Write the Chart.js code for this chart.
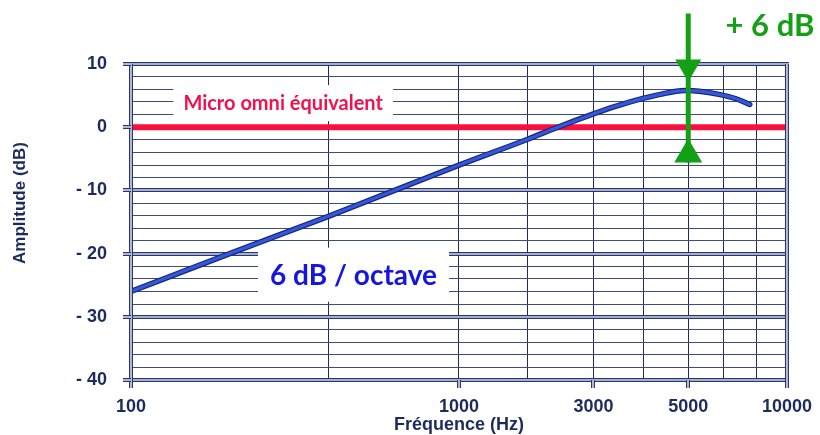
<!DOCTYPE html>
<html><head><meta charset="utf-8">
<script src="https://cdn.jsdelivr.net/npm/chart.js@4.4.1/dist/chart.umd.min.js"></script>
<style>html,body{margin:0;padding:0;background:#fff;}#wrap{width:820px;height:435px;position:relative;}</style>
</head><body><div id="wrap"><canvas id="c" width="820" height="435"></canvas></div>
<script>
// ---- data ----
const freqHz     = [100, 200, 400, 1000, 1620, 2000, 2570, 3000, 3660, 4200, 4600, 4900, 5400, 6200, 7000, 7700];
const responseDb = [-26, -20, -14.1, -6, -1.9, 0, 2.1, 3.3, 4.6, 5.3, 5.7, 5.8, 5.7, 5.2, 4.5, 3.6];
const omniFreq   = [100, 10000];
const omniDb     = [0, 0];
const xGridValues = [100, 400, 1000, 1620, 2570, 3660, 5000, 6400, 8100, 10000];
const xTickLabels = ['100', '', '1000', '', '3000', '', '5000', '', '', '10000'];
const yMajorValues = [10, 0, -10, -20, -30, -40];
const yTickLabels  = ['10', '0', '- 10', '- 20', '- 30', '- 40'];
const arrowFreq = 5000;
const arrowDb   = [18, 10.7, 7.2, -1.8, -5.6]; // top, down-head base, down tip, up tip, up-head base
const microLabel  = 'Micro omni équivalent';
const slopeLabel  = '6 dB / octave';
const gainLabel   = '+ 6 dB';
const yTitle = 'Amplitude (dB)';
const xTitle = 'Fréquence (Hz)';

// ---- annotation placement (data units) ----
const microPos = {f: 291, db: 3.8};
const slopePos = {f: 477, db: -23.5};
const gainPos  = {f: 6500, db: 16};
const yTitlePos = {db: -12};

const NAVY = '#1c2b5c';
const GRID_H = '#3e4c7c';
const GRID_V = '#1f2a5a';
const tickFont = {family: 'Liberation Sans', weight: 'bold', size: 18};

function dbl(ctx, x1, y1, x2, y2) {
  ctx.beginPath(); ctx.moveTo(x1, y1); ctx.lineTo(x2, y2);
  ctx.lineWidth = 4; ctx.strokeStyle = '#2a376c'; ctx.stroke();
  ctx.beginPath(); ctx.moveTo(x1, y1); ctx.lineTo(x2, y2);
  ctx.lineWidth = 1.6; ctx.strokeStyle = '#d3d9ef'; ctx.stroke();
}

const decor = {
  id: 'decor',
  beforeDatasetsDraw(chart) {
    const {ctx, chartArea: a, scales: {x, y}} = chart;
    ctx.save();
    ctx.lineCap = 'butt';
    yMajorValues.forEach(v => {
      const py = Math.round(y.getPixelForValue(v));
      dbl(ctx, a.left - 8, py, a.right, py);
    });
    // label boxes
    ctx.textAlign = 'center'; ctx.textBaseline = 'middle';
    ctx.font = 'bold 20px Lato';
    let mx = x.getPixelForValue(microPos.f), my = y.getPixelForValue(microPos.db);
    let w = ctx.measureText(microLabel).width;
    ctx.fillStyle = '#fff';
    ctx.fillRect(mx - w / 2 - 10, my - 18, w + 20, 36);
    ctx.fillStyle = '#f2114b';
    ctx.fillText(microLabel, mx, my);
    ctx.font = 'bold 28px Lato';
    let sx = x.getPixelForValue(slopePos.f), sy = y.getPixelForValue(slopePos.db);
    w = ctx.measureText(slopeLabel).width;
    ctx.fillStyle = '#fff';
    ctx.fillRect(sx - w / 2 - 12, sy - 28, w + 24, 54);
    ctx.fillStyle = '#1616e2';
    ctx.fillText(slopeLabel, sx, sy);
    // y title
    ctx.save();
    ctx.translate(20, y.getPixelForValue(yTitlePos.db));
    ctx.rotate(-Math.PI / 2);
    ctx.font = 'bold 17px "Liberation Sans"';
    ctx.fillStyle = NAVY;
    ctx.fillText(yTitle, 0, 0);
    ctx.restore();
    ctx.restore();
  },
  afterDatasetsDraw(chart) {
    const {ctx, chartArea: a, scales: {x, y}} = chart;
    ctx.save();
    // frame
    dbl(ctx, a.left - 2, a.top, a.right + 2, a.top);
    dbl(ctx, a.left - 2, a.bottom, a.right + 2, a.bottom);
    dbl(ctx, a.left, a.top, a.left, a.bottom + 8);
    dbl(ctx, a.right, a.top, a.right, a.bottom + 8);
    xGridValues.forEach((v, i) => {
      if (xTickLabels[i]) {
        const px = Math.round(x.getPixelForValue(v));
        dbl(ctx, px, a.bottom, px, a.bottom + 8);
      }
    });
    yMajorValues.forEach(v => {
      const py = Math.round(y.getPixelForValue(v));
      dbl(ctx, a.left - 8, py, a.left, py);
    });
    // green arrow
    const ax = x.getPixelForValue(arrowFreq);
    const [t, db, dt, ut, ub] = arrowDb.map(v => y.getPixelForValue(v));
    ctx.strokeStyle = '#14a014'; ctx.fillStyle = '#14a014';
    ctx.lineWidth = 5;
    ctx.beginPath(); ctx.moveTo(ax, t); ctx.lineTo(ax, ub); ctx.stroke();
    ctx.beginPath(); ctx.moveTo(ax - 13, db); ctx.lineTo(ax + 13, db); ctx.lineTo(ax, dt); ctx.closePath(); ctx.fill();
    ctx.beginPath(); ctx.moveTo(ax - 14, ub); ctx.lineTo(ax + 14, ub); ctx.lineTo(ax, ut); ctx.closePath(); ctx.fill();
    ctx.font = 'bold 31px Lato';
    ctx.textAlign = 'left'; ctx.textBaseline = 'middle';
    ctx.fillText(gainLabel, x.getPixelForValue(gainPos.f), y.getPixelForValue(gainPos.db));
    ctx.restore();
  }
};

const curvePts = freqHz.map((f, i) => ({x: f, y: responseDb[i]}));
const omniPts = omniFreq.map((f, i) => ({x: f, y: omniDb[i]}));

new Chart(document.getElementById('c'), {
  type: 'line',
  data: {
    datasets: [
      {data: omniPts, order: 3, borderColor: '#f8103f', borderWidth: 6, pointRadius: 0, tension: 0},
      {data: curvePts, order: 2, borderColor: '#1a2670', borderWidth: 5.5, pointRadius: 0, cubicInterpolationMode: 'monotone', borderCapStyle: 'round'},
      {data: curvePts, order: 1, borderColor: '#3358dd', borderWidth: 3.2, pointRadius: 0, cubicInterpolationMode: 'monotone', borderCapStyle: 'round'}
    ]
  },
  options: {
    responsive: false,
    animation: false,
    devicePixelRatio: 1,
    layout: {padding: {left: 0, top: 64, right: 29, bottom: 0}},
    plugins: {legend: {display: false}, tooltip: {enabled: false}},
    scales: {
      x: {
        type: 'logarithmic', min: 100, max: 10000,
        afterBuildTicks: s => { s.ticks = xGridValues.map(v => ({value: v})); },
        afterFit: s => { s.height = 55; },
        ticks: {autoSkip: false, maxRotation: 0, padding: 8, color: NAVY, font: tickFont,
          callback: (v, i) => xTickLabels[i] || ''},
        grid: {color: GRID_V, lineWidth: 1, tickLength: 8, tickColor: 'rgba(0,0,0,0)'},
        border: {display: false},
        title: {display: true, text: xTitle, color: NAVY,
          font: {family: 'Liberation Sans', weight: 'bold', size: 18}, padding: {top: 0, bottom: -1}}
      },
      y: {
        type: 'linear', min: -40, max: 10,
        afterFit: s => { s.width = 131; },
        ticks: {stepSize: 2, autoSkip: false, padding: 16, color: NAVY, font: tickFont,
          callback: v => { const i = yMajorValues.indexOf(Math.round(v)); return i >= 0 ? yTickLabels[i] : ''; }},
        grid: {
          color: c => (c.tick && yMajorValues.includes(Math.round(c.tick.value))) ? 'rgba(0,0,0,0)' : GRID_H,
          lineWidth: 1, tickLength: 8, tickColor: 'rgba(0,0,0,0)'},
        border: {display: false},
        title: {display: false}
      }
    }
  },
  plugins: [decor]
});
</script></body></html>
